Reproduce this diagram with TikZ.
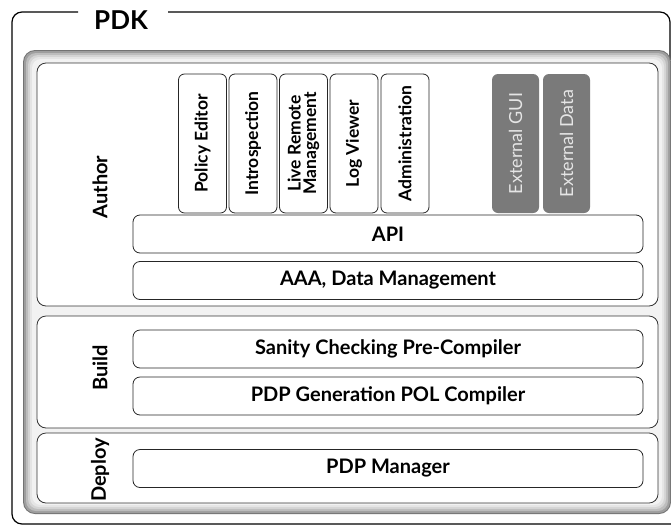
\documentclass[tikz,border=0pt]{standalone}
\usepackage{fontspec}
\setmainfont{Lato}
\begin{document}
\begin{tikzpicture}[x=1pt,y=-1pt,
  panel/.style={draw=black!80, line width=0.8pt, fill=white, rounded corners=9pt},
  hbox/.style={draw=black!85, line width=0.8pt, fill=white, rounded corners=7pt, minimum width=510pt, minimum height=38pt, font=\bfseries\fontsize{20}{21}\selectfont},
  vbox/.style={draw=black!85, line width=0.8pt, fill=white, rounded corners=6pt, rotate=90, minimum width=139pt, minimum height=48pt, inner sep=0pt, align=center, font=\bfseries\fontsize{17.5}{15.5}\selectfont},
  extbox/.style={draw=none, fill=black!52, rounded corners=6pt, rotate=90, minimum width=139pt, minimum height=47pt, inner sep=0pt, text=black!10, font=\fontsize{18}{19}\selectfont},
  plabel/.style={rotate=90, font=\bfseries\fontsize{20}{21}\selectfont}]
\useasboundingbox (0,0) rectangle (671,525);
% outer PDK frame
\draw[line width=1.2pt, rounded corners=10pt] (78,12) -- (12,12) -- (12,524) -- (671,524);
\draw[line width=1.2pt, rounded corners=10pt] (168,12) -- (670,12) -- (670,60);
\node[font=\bfseries\fontsize{26}{27}\selectfont, anchor=center] (pdk) at (121,20) {PDK};
% bevel frame
\fill[black!55, rounded corners=12pt] (23,50) rectangle (671,514);
\fill[black!38, rounded corners=11pt] (24,51) rectangle (670,513);
\fill[black!26, rounded corners=10pt] (26,53) rectangle (668,511);
\fill[black!17, rounded corners=10pt] (28,55) rectangle (666,509);
\fill[black!10, rounded corners=9pt] (30,57) rectangle (664,507);
\fill[black!5, rounded corners=9pt] (32,59) rectangle (662,505);
% panels
\draw[panel] (37,63) rectangle (658,306);
\draw[panel] (37,316) rectangle (658,428);
\draw[panel] (37,433) rectangle (658,503);
\node[plabel] (author) at (100,187) {Author};
\node[plabel] (build) at (100,368) {Build};
\node[plabel] (deploy) at (100,470) {Deploy};
% horizontal boxes
\node[hbox] (api) at (388,234) {API};
\node[hbox] (aaa) at (388,280.5) {AAA, Data Management};
\node[hbox] (san) at (388,349) {Sanity Checking Pre-Compiler};
\node[hbox] (gen) at (388,396) {PDP Generation POL Compiler};
\node[hbox] (mgr) at (388,468.5) {PDP Manager};
% vertical boxes
\node[vbox] (pe) at (202.5,143.5) {Policy Editor};
\node[vbox] (intro) at (253,143.5) {Introspection};
\node[vbox] (live) at (303.5,143.5) {Live Remote\\Management};
\node[vbox] (log) at (354,143.5) {Log Viewer};
\node[vbox] (adm) at (405,143.5) {Administration};
\node[extbox] (egui) at (515.5,143.5) {External GUI};
\node[extbox] (edata) at (566.5,143.5) {External\ Data};
\end{tikzpicture}
\end{document}
